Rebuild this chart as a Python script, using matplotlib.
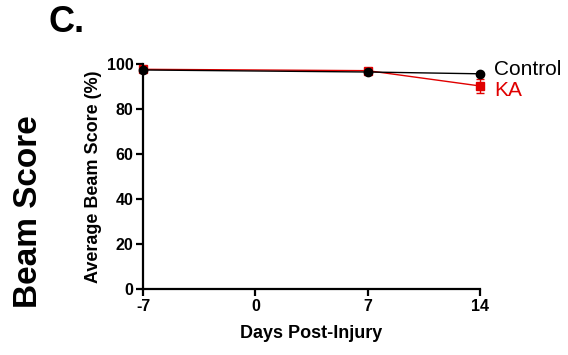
import numpy as np
from matplotlib import pyplot as plt

plt.rcParams['font.family'] = ['Liberation Sans', 'DejaVu Sans']

# Data
days = [-7, 7, 14]
day_ticks = [-7, 0, 7, 14]
day_labels = ['-7', '0', '7', '14']
control = [97.3, 96.4, 95.6]
control_err = [0.5, 0.5, 0.5]
ka = [97.6, 97.0, 90.2]
ka_err = [0.6, 0.6, 3.2]

fig = plt.figure(figsize=(5.68, 3.55), dpi=100)
ax = fig.add_axes([0.252, 0.186, 0.593, 0.634])

ax.errorbar(days, ka, yerr=ka_err, color='#e00000', marker='s', markersize=6,
            linewidth=1, capsize=3, elinewidth=1, zorder=2, clip_on=False)
ax.errorbar(days, control, yerr=control_err, color='black', marker='o', markersize=6,
            linewidth=1, capsize=3, elinewidth=1, zorder=3, clip_on=False)

ax.set_xlim(-7, 14)
ax.set_ylim(0, 100)
ax.set_xticks(day_ticks)
ax.set_xticklabels(day_labels)
ax.set_yticks([0, 20, 40, 60, 80, 100])
for s in ['top', 'right']:
    ax.spines[s].set_visible(False)
for s in ['left', 'bottom']:
    ax.spines[s].set_linewidth(1.6)
ax.tick_params(width=1.6, length=5, labelsize=11.5, pad=2)
for lbl in ax.get_xticklabels() + ax.get_yticklabels():
    lbl.set_fontweight('bold')

ax.set_xlabel('Days Post-Injury', fontsize=13, fontweight='bold', labelpad=8)
ax.set_ylabel('Average Beam Score (%)', fontsize=13, fontweight='bold', labelpad=3)

# Series labels next to the last points
ax.text(14.9, 97.5, 'Control', fontsize=15, color='black', va='center', ha='left')
ax.text(14.9, 88.0, 'KA', fontsize=15, color='#e00000', va='center', ha='left')

fig.text(0.086, 0.938, 'C.', fontsize=26, fontweight='bold', va='center', ha='left')
fig.text(0.05, 0.403, 'Beam Score', fontsize=24, fontweight='bold', rotation=90,
         va='center', ha='center')

fig.savefig('out.png', dpi=100)
